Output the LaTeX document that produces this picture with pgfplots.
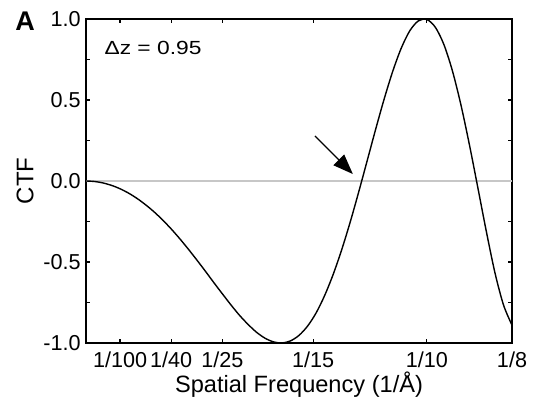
\documentclass[border=0pt]{standalone}
\usepackage{fontspec}
\setmainfont{Liberation Sans}
\usepackage{pgfplots}
\pgfplotsset{compat=1.18}
\usetikzlibrary{arrows.meta}
\begin{document}
\begin{tikzpicture}
\begin{axis}[
  name=ax, at={(0,0)}, anchor=south west,
  scale only axis, width=213pt, height=162pt,
  xmin=0, xmax=0.125, ymin=-1, ymax=1,
  axis line style={line width=0.8pt},
  xtick={0.01,0.025,0.04,0.0666667,0.1,0.125},
  xticklabels={1/100,1/40,1/25,1/15,1/10,1/8},
  ytick={-1,-0.5,0,0.5,1},
  yticklabels={-1.0,-0.5,0.0,0.5,1.0},
  minor ytick={-0.75,-0.25,0.25,0.75},
  tick align=inside,
  major tick length=2.2pt, minor tick length=2pt,
  tick style={line width=0.6pt, black},
  xticklabel style={font=\fontsize{10.8}{12}\selectfont, anchor=base, yshift=-12pt},
  yticklabel style={font=\fontsize{10.8}{12}\selectfont, inner sep=2.5pt},
  xlabel={Spatial Frequency (1/Å)},
  ylabel={CTF},
  xlabel style={font=\fontsize{11.8}{13}\selectfont, at={(axis description cs:0.5,-0.154)}, anchor=base},
  ylabel style={font=\fontsize{12}{13}\selectfont, at={(axis description cs:-0.143,0.5)}, anchor=center, rotate=0},
  clip=false,
]
\addplot[draw=black!22, line width=0.9pt] coordinates {(0,0) (0.125,0)};
\addplot[black, line width=0.7pt, smooth] coordinates {
(0,0) (0.0025,-0.003) (0.005,-0.012) (0.0075,-0.027) (0.01,-0.048)
(0.0125,-0.075) (0.015,-0.108) (0.0175,-0.147) (0.02,-0.191) (0.0225,-0.241)
(0.025,-0.296) (0.0275,-0.356) (0.03,-0.420) (0.0325,-0.487) (0.035,-0.556)
(0.0375,-0.627) (0.04,-0.696) (0.0425,-0.764) (0.045,-0.828) (0.0475,-0.884)
(0.05,-0.933) (0.0525,-0.970) (0.055,-0.993) (0.0575,-1.000) (0.06,-0.987)
(0.0625,-0.953) (0.065,-0.896) (0.0675,-0.815) (0.07,-0.708) (0.0725,-0.578)
(0.075,-0.426) (0.0775,-0.255) (0.08,-0.069) (0.0825,0.125) (0.085,0.320)
(0.0875,0.507) (0.09,0.677) (0.0925,0.820) (0.095,0.927) (0.0975,0.988)
(0.1,0.997) (0.1025,0.949) (0.105,0.843) (0.1075,0.681) (0.11,0.471)
(0.1125,0.224) (0.115,-0.044) (0.1175,-0.315) (0.12,-0.567) (0.1225,-0.765)
(0.125,-0.89)
};
\draw[line width=0.6pt, -{Triangle[length=10pt,width=7.5pt]}] (axis cs:0.0672,0.278) -- (axis cs:0.0783,0.043);
\node[anchor=west, xscale=1.2, font=\fontsize{9.5}{11}\selectfont, inner sep=0pt] at (axis cs:0.0053,0.82) {Δz = 0.95};
\end{axis}
\node[anchor=north west, inner sep=0pt, font=\bfseries\fontsize{13.5}{15}\selectfont] at (-35.5pt,165.5pt) {A};
\pgfresetboundingbox
\useasboundingbox (-43pt,-31.5pt) rectangle (223.5pt,171.5pt);
\end{tikzpicture}
\end{document}
